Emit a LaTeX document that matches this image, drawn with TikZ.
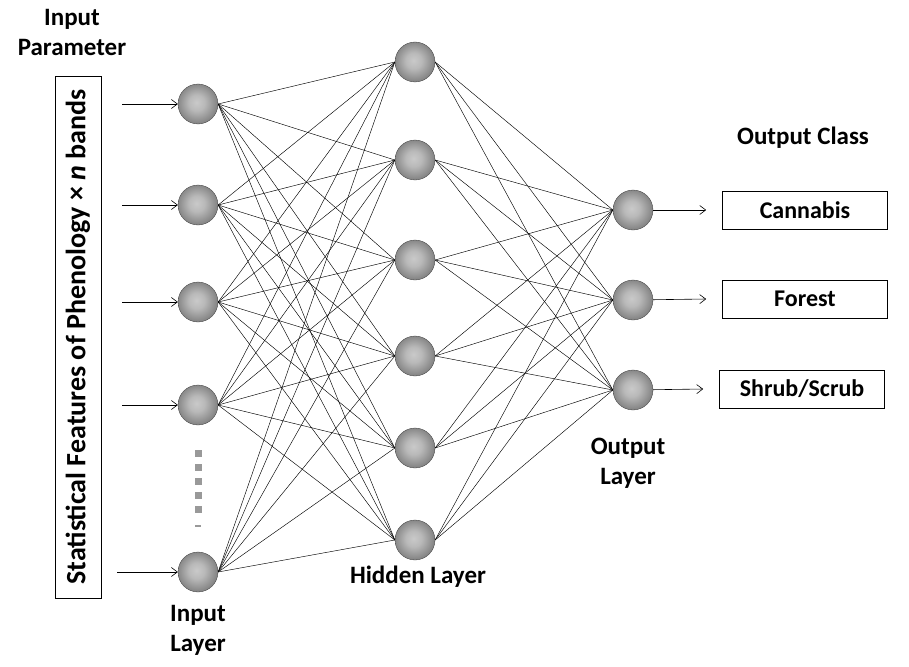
\documentclass[tikz,border=0pt]{standalone}
\usepackage{fontspec}
\setmainfont{Carlito}
\usetikzlibrary{positioning, arrows.meta}

\pgfdeclareradialshading{neuronball}{\pgfpoint{-2bp}{2bp}}{%
  color(0bp)=(gray!42); color(10bp)=(gray!55); color(30bp)=(gray!90!black);
  color(46bp)=(gray!55!black); color(50bp)=(gray!50!black)}

\begin{document}
\begin{tikzpicture}[
        x=1pt, y=-1pt,
        neuron/.style={circle, minimum size=40pt, inner sep=0pt, shading=neuronball, draw=gray!45!black, line width=0.3pt},
        classbox/.style={rectangle, draw, line width=0.6pt, minimum width=165pt, minimum height=38pt, font=\fontsize{24}{26}\selectfont\bfseries},
        lbl/.style={align=center, font=\fontsize{25}{30}\selectfont\bfseries},
        link/.style={line width=0.45pt},
        feed/.style={-{Straight Barb[length=6pt, width=9pt]}, line width=0.6pt},
    ]
        \useasboundingbox (0,0) rectangle (909,666);

        % Input side
        \node[rectangle, draw, line width=0.6pt, rotate=90, minimum width=522pt, minimum height=46pt, font=\fontsize{28}{30}\selectfont\bfseries] (feat) at (78,337) {Statistical Features of Phenology × \textit{n} bands};
        \node[lbl] (param) at (72,32) {Input\\Parameter};

        % Layers
        \node[neuron] (in1) at (198,104) {};
        \node[neuron] (in2) at (198,205) {};
        \node[neuron] (in3) at (198,302) {};
        \node[neuron] (in4) at (198,405) {};
        \node[neuron] (in5) at (198,572) {};

        \node[neuron] (hid1) at (415,62) {};
        \node[neuron] (hid2) at (415,160) {};
        \node[neuron] (hid3) at (415,260) {};
        \node[neuron] (hid4) at (415,356) {};
        \node[neuron] (hid5) at (415,448) {};
        \node[neuron] (hid6) at (415,540) {};

        \node[neuron] (out1) at (633,210) {};
        \node[neuron] (out2) at (633,300) {};
        \node[neuron] (out3) at (633,390) {};

        % Dots between input nodes
        \foreach \y in {453,467,481,495,509}
            \fill[gray!80] (194.5,\y-3.5) rectangle ++(7,7);
        \fill[gray!80] (195,525) rectangle ++(6,1.5);

        % Weights
        \foreach \i in {1,...,5}
            \foreach \j in {1,...,6}
                \draw[link] (in\i.east) -- (hid\j.west);
        \foreach \j in {1,...,6}
            \foreach \k in {1,...,3}
                \draw[link] (hid\j.east) -- (out\k.west);

        % Input arrows
        \coordinate (src1) at (122,104);
        \coordinate (src2) at (122,205);
        \coordinate (src3) at (122,302);
        \coordinate (src4) at (122,405);
        \coordinate (src5) at (117,572);
        \foreach \i in {1,...,5}
            \draw[feed] (src\i) -- (in\i);

        % Output classes
        \node[classbox] (cls1) at (805,210) {Cannabis};
        \node[classbox] (cls2) at (805,299) {Forest};
        \node[classbox] (cls3) at (802,389) {Shrub/Scrub};
        \foreach \k in {1,2,3}
            \draw[feed] (out\k) -- ([xshift=-16pt]cls\k.west);

        % Labels
        \node[lbl] (inlbl) at (198,630) {Input\\Layer};
        \node[lbl] (hidlbl) at (418,577) {Hidden Layer};
        \node[lbl] (outlbl) at (628,463) {Output\\Layer};
        \node[lbl] (clslbl) at (803,138) {Output Class};

    \end{tikzpicture}
\end{document}
